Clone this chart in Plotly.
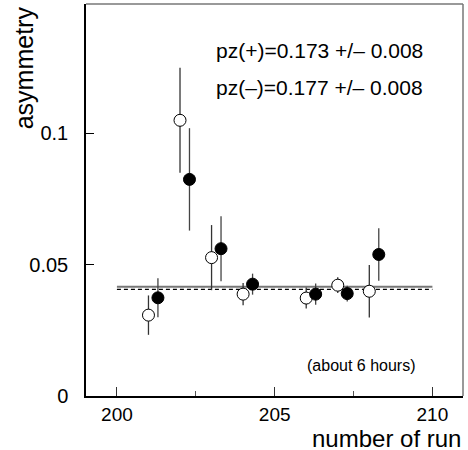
import plotly.graph_objects as go

# Data
run_open = [201.0, 202.0, 203.0, 204.0, 206.0, 207.0, 208.0]
asym_open = [0.0308, 0.1050, 0.0527, 0.0388, 0.0373, 0.0422, 0.0399]
err_open = [0.0075, 0.0200, 0.0124, 0.0042, 0.0040, 0.0030, 0.0100]

run_fill = [201.3, 202.3, 203.3, 204.3, 206.3, 207.3, 208.3]
asym_fill = [0.0374, 0.0825, 0.0561, 0.0426, 0.0388, 0.0390, 0.0539]
err_fill = [0.0074, 0.0195, 0.0124, 0.0040, 0.0040, 0.0030, 0.0100]

fit_x = [200, 210]
fit_solid = [0.0416, 0.0416]
fit_dashed = [0.0406, 0.0406]

FONT = "Liberation Sans, Arial, Helvetica, sans-serif"

fig = go.Figure()
fig.add_trace(go.Scatter(x=fit_x, y=fit_solid, mode="lines",
                         line=dict(color="#777777", width=2), showlegend=False))
fig.add_trace(go.Scatter(x=fit_x, y=fit_dashed, mode="lines",
                         line=dict(color="black", width=1.2, dash="4px,3px"), showlegend=False))
fig.add_trace(go.Scatter(x=run_open, y=asym_open, mode="markers",
                         error_y=dict(type="data", array=err_open, width=0, thickness=1.3, color="#333333"),
                         marker=dict(symbol="circle", size=12, color="white",
                                     line=dict(color="black", width=1)),
                         showlegend=False))
fig.add_trace(go.Scatter(x=run_fill, y=asym_fill, mode="markers",
                         error_y=dict(type="data", array=err_fill, width=0, thickness=1.3, color="#444444"),
                         marker=dict(symbol="circle", size=12, color="black",
                                     line=dict(color="black", width=1)),
                         showlegend=False))

fig.update_layout(
    width=468, height=450,
    margin=dict(l=86, r=5, t=4, b=54, autoexpand=False),
    paper_bgcolor="white", plot_bgcolor="white",
    font=dict(family=FONT, size=20, color="black"),
    xaxis=dict(range=[199.02, 210.97], tickmode="linear", tick0=200, dtick=5,
               ticks="inside", ticklen=9, tickwidth=1, tickcolor="#333333",
               showline=True, linecolor="black", linewidth=1.5,
               showgrid=False, zeroline=False, automargin=False,
               tickfont=dict(family=FONT, size=19),
               minor=dict(dtick=2.5, tick0=200, ticks="inside", ticklen=5,
                          tickcolor="#555555", showgrid=False)),
    yaxis=dict(range=[0, 0.1493], tickmode="array", tickvals=[0, 0.05, 0.1],
               ticktext=["0", "0.05", "0.1"],
               ticks="inside", ticklen=8, tickwidth=1, tickcolor="black",
               showline=True, linecolor="black", linewidth=1.5,
               showgrid=False, zeroline=False, automargin=False, ticklabelstandoff=12,
               tickfont=dict(family=FONT, size=20)),
    shapes=[
        dict(type="line", xref="paper", yref="paper", x0=0, x1=1, y0=1, y1=1,
             line=dict(color="#777777", width=1.5)),
        dict(type="line", xref="paper", yref="paper", x0=1, x1=1, y0=0, y1=1,
             line=dict(color="#777777", width=1.5)),
    ],
    annotations=[
        dict(text="pz(+)=0.173 +/\u2013 0.008", x=203.08, y=0.1317, xref="x", yref="y",
             xanchor="left", yanchor="middle", showarrow=False,
             font=dict(family=FONT, size=21)),
        dict(text="pz(\u2013)=0.177 +/\u2013 0.008", x=203.08, y=0.1176, xref="x", yref="y",
             xanchor="left", yanchor="middle", showarrow=False,
             font=dict(family=FONT, size=21)),
        dict(text="(about 6 hours)", x=205.95, y=0.0117, xref="x", yref="y",
             xanchor="left", yanchor="middle", showarrow=False,
             font=dict(family=FONT, size=16)),
        dict(text="asymmetry", x=-0.165, y=1.0, xref="paper", yref="paper",
             xanchor="center", yanchor="top", textangle=-90, showarrow=False,
             font=dict(family=FONT, size=25)),
        dict(text="number of run", x=1.0, y=-0.106, xref="paper", yref="paper",
             xanchor="right", yanchor="middle", showarrow=False, height=24,
             font=dict(family=FONT, size=24)),
    ],
)

fig.write_html("out.html", config={"displayModeBar": False},
               post_script="document.body.style.margin='0';document.body.style.overflow='hidden';")
